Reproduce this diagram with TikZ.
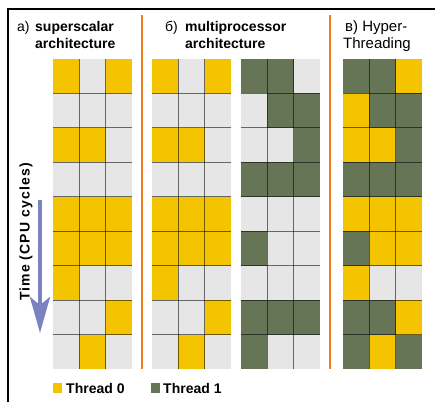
\documentclass[tikz,border=0pt]{standalone}
\usepackage{fontspec}
\setmainfont{Liberation Sans}
\newfontfamily\spacedbold[LetterSpace=8]{Liberation Sans}
\usetikzlibrary{arrows.meta}
\definecolor{yc}{HTML}{F5C400}
\definecolor{gc}{HTML}{E6E6E6}
\definecolor{dc}{HTML}{657555}
\definecolor{orangeline}{HTML}{EE8020}
\definecolor{timearrow}{HTML}{7A82C2}
\newcommand\cellgrid[2]{%
  \foreach \a/\b/\c [count=\r from 0] in {#2} {
    \fill[\a] (#1,59+\r*34.44) rectangle ++(26.33,34.44);
    \fill[\b] (#1+26.33,59+\r*34.44) rectangle ++(26.33,34.44);
    \fill[\c] (#1+52.66,59+\r*34.44) rectangle ++(26.34,34.44);
  }
  \foreach \i in {1,2} \draw[gridline] (#1+\i*26.33,59) -- ++(0,310);
  \foreach \j in {1,...,8} \draw[gridline] (#1,59+\j*34.44) -- ++(79,0);
}
\begin{document}
\begin{tikzpicture}[x=1pt,y=-1pt,
  gridline/.style={black,opacity=0.55,line width=0.8pt},
  titlereg/.style={anchor=base west,inner sep=0pt,font=\fontsize{14}{16}\selectfont},
  titlebold/.style={anchor=base west,inner sep=0pt,font=\fontsize{14}{16}\selectfont\bfseries},
  sepline/.style={orangeline,line width=2pt},
  legendtext/.style={anchor=base west,inner sep=0pt,font=\fontsize{14}{16}\selectfont\bfseries}]
\useasboundingbox (0,0) rectangle (435,402);
\fill[white] (0,0) rectangle (435,402);
% frame
\draw[line width=1.5pt] (8,402) -- (8,9) -- (435,9);
% separators
\draw[sepline] (141.5,15) -- (141.5,369);
\draw[sepline] (330,15) -- (330,369);
% titles
\node[titlereg] (ta) at (17,31.5) {а)};
\node[titlebold] (ta1) at (35,31.5) {superscalar};
\node[titlebold] (ta2) at (35,48) {architecture};
\node[titlereg] (tb) at (165,31.5) {б)};
\node[titlebold] (tb1) at (185,31.5) {multiprocessor};
\node[titlebold] (tb2) at (185,48) {architecture};
\node[titlereg,font=\fontsize{15}{17}\selectfont] (tc1) at (345,31.5) {в) Hyper-};
\node[titlereg,font=\fontsize{15}{17}\selectfont] (tc2) at (343,48) {Threading};
% grids
\cellgrid{53}{yc/gc/yc, gc/gc/gc, yc/yc/gc, gc/gc/gc, yc/yc/yc, yc/yc/yc, yc/gc/gc, gc/gc/yc, gc/yc/gc}
\cellgrid{152}{yc/gc/yc, gc/gc/gc, yc/yc/gc, gc/gc/gc, yc/yc/yc, yc/yc/yc, yc/gc/gc, gc/gc/yc, gc/yc/gc}
\cellgrid{241}{dc/dc/gc, gc/dc/dc, gc/gc/dc, dc/dc/dc, gc/gc/gc, dc/gc/gc, gc/gc/gc, dc/dc/dc, dc/gc/gc}
\cellgrid{343}{dc/dc/yc, yc/dc/dc, yc/yc/dc, dc/dc/dc, yc/yc/yc, dc/yc/yc, yc/gc/gc, dc/dc/yc, dc/yc/dc}
% time arrow
\coordinate (tA) at (40,200);
\coordinate (tB) at (40,333);
\draw[timearrow,line width=4pt,-{Stealth[length=36pt,width=20pt,inset=8pt]}] (tA) -- (tB);
\node[rotate=90,inner sep=0pt,font=\fontsize{14}{16}\spacedbold\bfseries] (time) at (26,232) {Time (CPU cycles)};
% legend
\fill[yc] (53,383) rectangle (62,393);
\node[legendtext] (l0) at (66,393) {Thread 0};
\fill[dc] (151,383) rectangle (160,393);
\node[legendtext] (l1) at (163,393) {Thread 1};
\end{tikzpicture}
\end{document}
